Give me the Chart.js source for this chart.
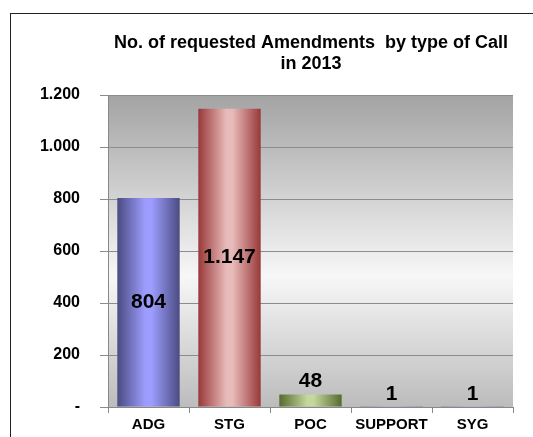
<!DOCTYPE html>
<html>
<head>
<meta charset="utf-8">
<script src="https://cdn.jsdelivr.net/npm/chart.js@4"></script>
<style>
  html, body { margin: 0; padding: 0; background: #fff; }
  #wrap { position: relative; width: 533px; height: 437px; }
  #frame { position: absolute; left: 10px; top: 13px; right: -2px; bottom: -2px; border: 1.5px solid #222; }
  canvas { position: absolute; left: 0; top: 0; }
</style>
</head>
<body>
<div id="wrap">
  <div id="frame"></div>
  <canvas id="chart" width="533" height="437"></canvas>
</div>
<script>
const categories = ['ADG', 'STG', 'POC', 'SUPPORT', 'SYG'];
const amendments = [804, 1147, 48, 1, 1];
const yTicks = [0, 200, 400, 600, 800, 1000, 1200];
const titleLines = ['No. of requested Amendments  by type of Call', 'in 2013'];

// edge / centre colours for the cylinder-like bars
const barEdges = ['#4b4b82', '#993838', '#566b30', '#4b4b82', '#4b4b82'];
const barCentres = ['#9d9dff', '#e8baba', '#c4d79c', '#9d9dff', '#9d9dff'];

const fmt = (v) => (v === 0 ? '-' : v.toLocaleString('de-DE'));
const FONT = '"Liberation Sans", Arial, sans-serif';

function barFill(context) {
  const chart = context.chart;
  const i = context.dataIndex;
  const x = chart.scales.x;
  if (!chart.chartArea || !x) return barCentres[i];
  const w = (x.width / categories.length) * 0.77;
  const cx = x.getPixelForValue(i);
  const g = chart.ctx.createLinearGradient(cx - w / 2, 0, cx + w / 2, 0);
  g.addColorStop(0, barEdges[i]);
  g.addColorStop(0.45, barCentres[i]);
  g.addColorStop(0.55, barCentres[i]);
  g.addColorStop(1, barEdges[i]);
  return g;
}

const decor = {
  id: 'decor',
  beforeDraw(chart) {
    const { ctx, chartArea: a } = chart;
    const g = ctx.createLinearGradient(0, a.top, 0, a.bottom);
    g.addColorStop(0, '#a3a3a3');
    g.addColorStop(0.58, '#f7f7f7');
    g.addColorStop(1, '#bcbcbc');
    ctx.save();
    ctx.fillStyle = g;
    ctx.fillRect(a.left, a.top, a.right - a.left, a.bottom - a.top);
    ctx.restore();
  },
  afterDraw(chart) {
    const { ctx } = chart;
    ctx.save();
    ctx.fillStyle = '#000';
    ctx.textAlign = 'center';
    ctx.textBaseline = 'middle';
    ctx.font = 'bold 18px ' + FONT;
    ctx.fillText(titleLines[0], 311, 43);
    ctx.fillText(titleLines[1], 311, 64);

    ctx.font = 'bold 21px ' + FONT;
    const meta = chart.getDatasetMeta(0);
    meta.data.forEach((bar, i) => {
      const v = amendments[i];
      const h = bar.base - bar.y;
      const y = h > 60 ? (bar.y + bar.base) / 2 : bar.y - 13;
      ctx.fillText(fmt(v), bar.x, y);
    });
    ctx.restore();
  }
};

new Chart(document.getElementById('chart'), {
  type: 'bar',
  data: {
    labels: categories,
    datasets: [{
      data: amendments,
      backgroundColor: barFill,
      borderWidth: 0,
      categoryPercentage: 1,
      barPercentage: 0.77,
    }],
  },
  options: {
    responsive: false,
    animation: false,
    layout: { padding: { top: 95, right: 20, left: 0, bottom: 0 } },
    plugins: { legend: { display: false }, tooltip: { enabled: false } },
    scales: {
      x: {
        grid: { display: true, drawOnChartArea: false, offset: true, color: '#888', tickLength: 6 },
        border: { color: '#888' },
        ticks: { color: '#000', font: { family: FONT, size: 15, weight: 'bold' }, padding: 3 },
        afterFit: (s) => { s.height = 30; },
      },
      y: {
        min: 0,
        max: 1200,
        afterBuildTicks: (s) => { s.ticks = yTicks.map((v) => ({ value: v })); },
        grid: { color: '#8c8c8c', tickLength: 8 },
        border: { color: '#888' },
        ticks: {
          color: '#000',
          font: { family: FONT, size: 16, weight: 'bold' },
          padding: 20,
          callback: (v) => fmt(v),
        },
        afterFit: (s) => { s.width = 108; },
      },
    },
  },
  plugins: [decor],
});
</script>
</body>
</html>
